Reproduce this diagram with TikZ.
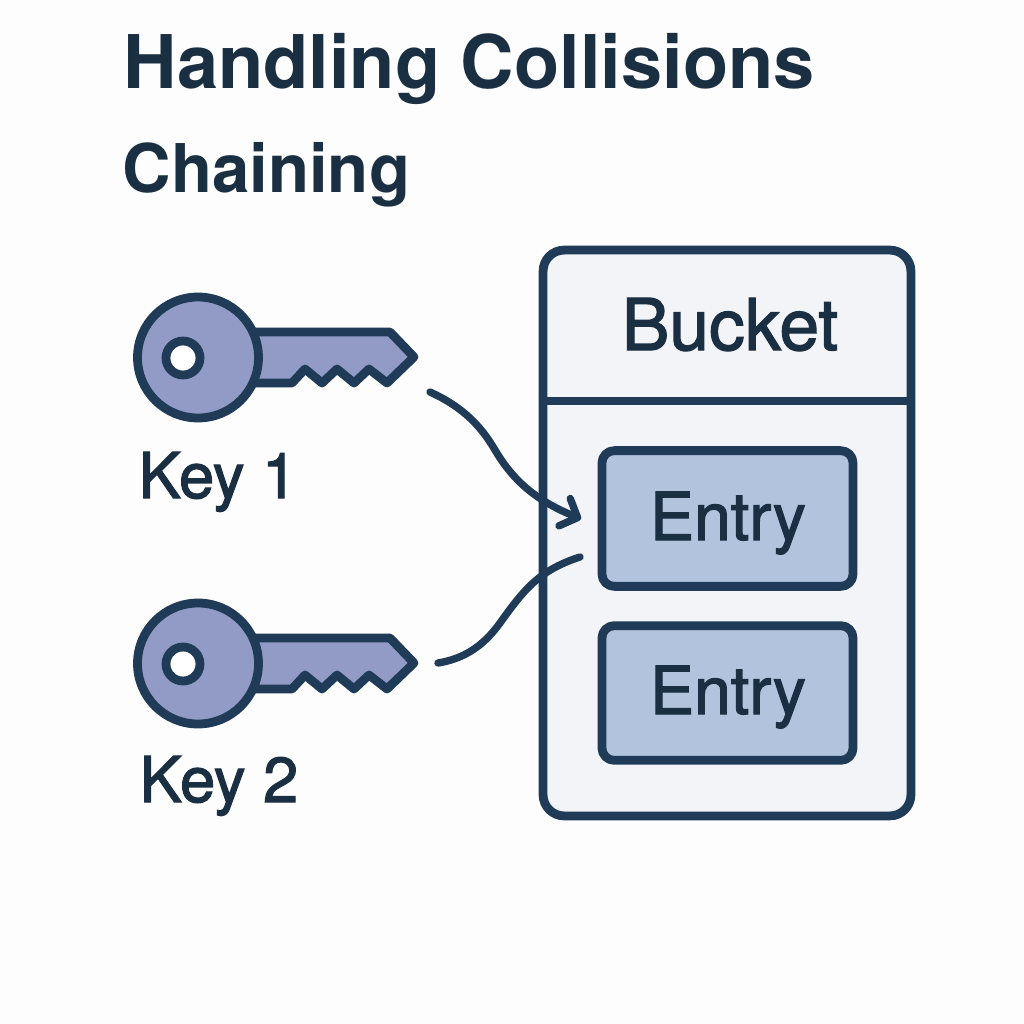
\documentclass[tikz,border=0pt]{standalone}
\usepackage{fontspec}
\setmainfont{TeX Gyre Heros}
\newfontfamily\labelfont[FakeBold=1.8]{TeX Gyre Heros}
\usetikzlibrary{arrows.meta}
\definecolor{inkblue}{HTML}{1F3B57}
\definecolor{titleink}{HTML}{1B2F43}
\definecolor{keyfill}{HTML}{929BC5}
\definecolor{bucketfill}{HTML}{F2F4F8}
\definecolor{entryfill}{HTML}{B1C3DD}
\definecolor{paper}{HTML}{FDFDFD}
\tikzset{
  outline/.style={draw=inkblue,line width=2.5pt,line join=round},
  entrybox/.style={outline,fill=entryfill,rounded corners=3.5pt,minimum width=71.4pt,inner sep=0pt},
  heading/.style={anchor=base west,inner sep=0pt,text=titleink},
  caption/.style={anchor=base,inner sep=0pt,text=titleink,font=\labelfont\fontsize{18}{18}\selectfont},
  link/.style={draw=inkblue,line width=2.1pt,line cap=round},
}
\begin{document}
\begin{tikzpicture}[x=0.01cm,y=-0.01cm]
  \useasboundingbox[fill=paper] (0,0) rectangle (1024,1024);

  % Title lines
  \node[heading,font=\fontsize{21.05}{21.05}\selectfont\bfseries] (title) at (123,88) {Handling Collisions};
  \node[heading,font=\fontsize{19.1}{19.1}\selectfont\bfseries] (subtitle) at (122,192) {Chaining};

  % Two keys
  \foreach \n/\ypos in {1/0,2/306} {
    \begin{scope}[yshift=-\ypos*0.01cm]
      \draw[outline,fill=keyfill] (250,332) -- (390,332) -- (414,357) -- (387,383) -- (369,369)
        -- (354,383) -- (337,369) -- (322,383) -- (305,369) -- (292,383) -- (250,383) -- cycle;
      \draw[outline,fill=keyfill] (198,357.5) circle (60.5);
      \draw[outline,fill=white] (183,358) circle (17);
    \end{scope}
  }
  \node[caption] (keyone) at (218,498) {Key 1};
  \node[caption] (keytwo) at (219,802) {Key 2};

  % Bucket with its entries
  \node[outline,fill=bucketfill,rounded corners=6pt,minimum width=104.6pt,minimum height=160.9pt,inner sep=0pt] (bucket) at (727,533) {};
  \draw[outline] (bucket.west |- 0,401) -- (bucket.east |- 0,401);
  \node[caption,font=\labelfont\fontsize{20.3}{20.3}\selectfont] (buckettext) at (730,350) {Bucket};
  \node[entrybox,minimum height=38.6pt] (entryone) at (727.5,518.5) {};
  \node[entrybox,minimum height=38.3pt] (entrytwo) at (727.5,693) {};
  \node[caption,font=\labelfont\fontsize{18.8}{18.8}\selectfont] (entryonetext) at (728,540) {Entry};
  \node[caption,font=\labelfont\fontsize{18.8}{18.8}\selectfont] (entrytwotext) at (728,714) {Entry};

  % Connectors
  \coordinate (startone) at (430,392);
  \coordinate (starttwo) at (438,663);
  \coordinate (endone) at (581,519);
  \coordinate (endtwo) at (580,557);
  \draw[link,-{Straight Barb[length=4pt,width=8.4pt,round]}] (startone)
    .. controls (465,408) and (482,428) .. (495,450)
    .. controls (515,484) and (540,502) .. (endone);
  \draw[link] (starttwo) .. controls (462,659) and (482,648) .. (500,623)
    .. controls (525,588) and (540,570) .. (endtwo);
\end{tikzpicture}
\end{document}
